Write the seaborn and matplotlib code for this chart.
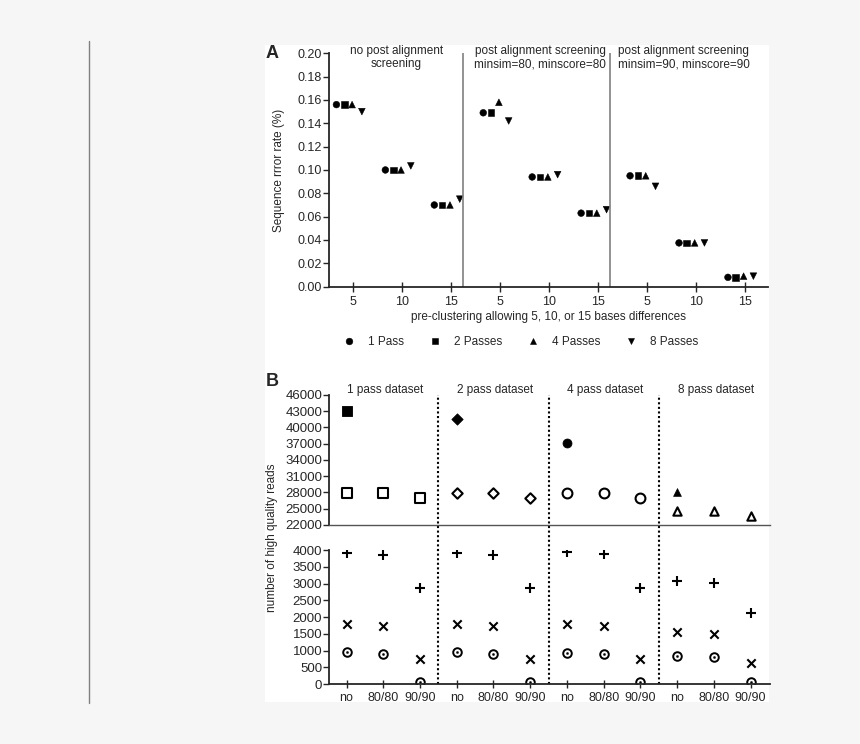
import numpy as np
import pandas as pd
import seaborn as sns
import matplotlib
matplotlib.use("Agg")
import matplotlib.pyplot as plt
from matplotlib.patches import Rectangle
from matplotlib.lines import Line2D

# Panel A data: error rate per screening / pre-clustering threshold
thresholds = [5, 10, 15]
screenings = ['none', '80/80', '90/90']
screening_titles = ['no post alignment\nscreening',
                    'post alignment screening\nminsim=80, minscore=80',
                    'post alignment screening\nminsim=90, minscore=90']
pass_labels = ['1 Pass', '2 Passes', '4 Passes', '8 Passes']
# order: none 5,10,15 | 80/80 5,10,15 | 90/90 5,10,15
rate_1pass = [0.156, 0.100, 0.070, 0.149, 0.094, 0.063, 0.095, 0.0375, 0.008]
rate_2pass = [0.156, 0.100, 0.070, 0.149, 0.094, 0.063, 0.095, 0.0375, 0.008]
rate_4pass = [0.156, 0.100, 0.070, 0.158, 0.094, 0.063, 0.095, 0.0375, 0.009]
rate_8pass = [0.150, 0.1035, 0.075, 0.142, 0.096, 0.066, 0.086, 0.0375, 0.009]

# Panel B data: number of high quality reads
datasets = ['1 pass dataset', '2 pass dataset', '4 pass dataset', '8 pass dataset']
screen_labels = ['no', '80/80', '90/90']
reads_raw = [43100, 41600, 37200, 28000]          # filled marker at 'no'
reads_hq = [27950, 27950, 26900,
            27950, 27950, 26900,
            27950, 27950, 26900,
            24550, 24550, 23700]
reads_plus = [3920, 3850, 2860, 3920, 3850, 2860, 3930, 3870, 2860, 3080, 3020, 2110]
reads_cross = [1790, 1740, 740, 1790, 1740, 740, 1790, 1740, 740, 1560, 1490, 620]
reads_dot = [950, 890, 70, 950, 890, 70, 940, 890, 70, 850, 800, 70]

sns.set_style("ticks")
plt.rcParams['font.family'] = ['Liberation Sans', 'DejaVu Sans']
plt.rcParams['font.size'] = 8.5

fig = plt.figure(figsize=(8.6, 7.44), dpi=100)
fig.patch.set_facecolor('#f6f6f6')
fig.add_artist(Rectangle((265 / 860, 42 / 744), 504 / 860, 657 / 744,
                         transform=fig.transFigure, facecolor='white',
                         edgecolor='none', zorder=0))
fig.add_artist(Line2D([89 / 860, 89 / 860], [1 - 41 / 744, 1 - 703 / 744],
                      transform=fig.transFigure, color='#808080', lw=1))

# ---------- Panel A ----------
offsets = {'1 Pass': -1.7, '2 Passes': -0.9, '4 Passes': -0.1, '8 Passes': 0.9}
rows = []
for lab, vals in zip(pass_labels, [rate_1pass, rate_2pass, rate_4pass, rate_8pass]):
    for i, v in enumerate(vals):
        g, t = divmod(i, 3)
        rows.append({'pos': g * 15 + thresholds[t] + offsets[lab], 'rate': v, 'passes': lab})
dfA = pd.DataFrame(rows)

axA = fig.add_axes([0.3826, 0.6147, 0.5105, 0.3137])
axA.patch.set_alpha(0)
sns.scatterplot(data=dfA, x='pos', y='rate', style='passes', style_order=pass_labels,
                markers={'1 Pass': 'o', '2 Passes': 's', '4 Passes': '^', '8 Passes': 'v'},
                color='black', edgecolor='black', s=23, ax=axA)
axA.set_xlim(2.545, 47.4)
axA.set_ylim(0, 0.2)
axA.set_yticks(np.arange(0, 0.201, 0.02))
axA.set_yticklabels([f'{v:.2f}' for v in np.arange(0, 0.201, 0.02)])
axA.set_xticks([g * 15 + t for g in range(3) for t in thresholds])
axA.set_xticklabels([str(t) for t in thresholds] * 3)
for sep in [16.25, 31.25]:
    axA.axvline(sep, color='#808080', lw=1.2)
for g, title in enumerate(screening_titles):
    axA.text(9.4 + g * 14.7, 1.036, title, transform=axA.get_xaxis_transform(),
             ha='center', va='top', linespacing=1.15)
axA.set_xlabel('pre-clustering allowing 5, 10, or 15 bases differences', labelpad=2)
axA.set_ylabel('Sequence rrror rate (%)', labelpad=9)
sns.despine(ax=axA)
axA.tick_params(axis='x', direction='inout', length=7, width=1, labelsize=9)
axA.tick_params(axis='y', direction='out', length=4, width=1, pad=1, labelsize=9)
for sp in ['left', 'bottom']:
    axA.spines[sp].set_linewidth(1.3)
sns.move_legend(axA, 'center', bbox_to_anchor=(0.43, -0.237), ncol=4, frameon=False,
                title=None, columnspacing=1.6, handletextpad=0.6)

# ---------- Panel B ----------
xpos = np.arange(12)
axU = fig.add_axes([0.3826, 0.2944, 0.5128, 0.1747])
axL = fig.add_axes([0.3826, 0.0806, 0.5128, 0.1801])
for ax in (axU, axL):
    ax.patch.set_alpha(0)
    ax.set_xlim(-0.476, 11.53)

filled_m = ['s', 'D', 'o', '^']
filled_s = [60, 34, 42, 32]
open_s = [50, 28, 50, 36]
for d in range(4):
    sns.scatterplot(x=[d * 3], y=[reads_raw[d]], marker=filled_m[d], s=filled_s[d],
                    color='black', edgecolor='black', ax=axU, legend=False)
    sns.scatterplot(x=xpos[d * 3:d * 3 + 3], y=reads_hq[d * 3:d * 3 + 3],
                    marker=filled_m[d], s=open_s[d], facecolor='white',
                    edgecolor='black', linewidth=1.5, ax=axU, legend=False)
axU.set_ylim(22000, 46000)
axU.set_yticks(np.arange(22000, 46001, 3000))
axU.set_xticks([])
sns.despine(ax=axU)
axU.spines['bottom'].set_color('#555555')
axU.spines['bottom'].set_linewidth(1)
axU.spines['left'].set_linewidth(1.3)
axU.tick_params(axis='y', direction='out', length=4, width=1, pad=1, labelsize=9.5)
for d, name in enumerate(datasets):
    axU.text(d * 3 + 1.05, 1.04, name, transform=axU.get_xaxis_transform(),
             ha='center', va='center')

sns.scatterplot(x=xpos, y=reads_plus, marker='+', s=48, color='black',
                linewidth=1.5, ax=axL, legend=False)
sns.scatterplot(x=xpos, y=reads_cross, marker='x', s=36, color='black',
                linewidth=1.5, ax=axL, legend=False)
sns.scatterplot(x=xpos, y=reads_dot, marker='o', s=38, facecolor='white',
                edgecolor='black', linewidth=1.4, ax=axL, legend=False)
sns.scatterplot(x=xpos, y=reads_dot, marker='o', s=3, color='black',
                edgecolor='black', ax=axL, legend=False)
axL.set_ylim(0, 4000)
axL.set_yticks(np.arange(0, 4001, 500))
axL.set_xticks(xpos)
axL.set_xticklabels(screen_labels * 4)
sns.despine(ax=axL)
axL.tick_params(axis='x', direction='inout', length=6, width=1, pad=3, labelsize=9)
axL.tick_params(axis='y', direction='out', length=4, width=1, pad=1, labelsize=9.5)
for sp in ['left', 'bottom']:
    axL.spines[sp].set_linewidth(1.3)

for sep in [2.5, 5.5, 8.5]:
    axU.axvline(sep, ymin=-0.2, ymax=1, clip_on=False, color='black', lw=1.5,
                linestyle=(0, (1, 1.2)))
    axL.axvline(sep, color='black', lw=1.5, linestyle=(0, (1, 1.2)))

fig.text(272 / 860, 1 - 538 / 744, 'number of high quality reads', rotation=90,
         ha='center', va='center')
fig.text(272 / 860, 1 - 53 / 744, 'A', fontsize=13, fontweight='bold', ha='center', va='center')
fig.text(272 / 860, 1 - 381 / 744, 'B', fontsize=13, fontweight='bold', ha='center', va='center')

fig.savefig('out.png', dpi=100, facecolor=fig.get_facecolor())
